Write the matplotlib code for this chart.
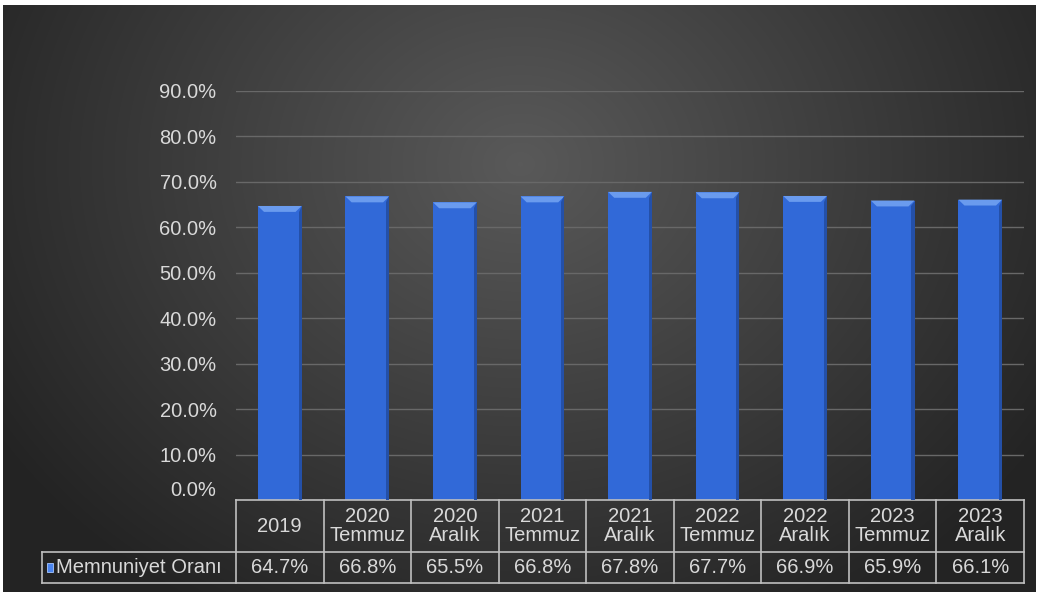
import numpy as np
import matplotlib
matplotlib.use('Agg')
import matplotlib.pyplot as plt
from matplotlib.patches import Polygon, Rectangle
import matplotlib.transforms as mtransforms

plt.rcParams['font.family'] = ['Liberation Sans', 'DejaVu Sans']

categories = ['2019', '2020\nTemmuz', '2020\nAralık', '2021\nTemmuz', '2021\nAralık',
              '2022\nTemmuz', '2022\nAralık', '2023\nTemmuz', '2023\nAralık']
values = [64.7, 66.8, 65.5, 66.8, 67.8, 67.7, 66.9, 65.9, 66.1]
series_name = 'Memnuniyet Oranı'
yticks = [0, 10, 20, 30, 40, 50, 60, 70, 80, 90]

W, H = 1039, 592
fig = plt.figure(figsize=(W / 100, H / 100), dpi=100)
fig.patch.set_facecolor('white')

# radial dark-grey backdrop
bg = fig.add_axes([3 / W, 0, (W - 6) / W, (H - 5) / H])
bg.set_axis_off()
yy, xx = np.mgrid[0:H, 0:W]
r = np.sqrt(((xx - 520) / 620) ** 2 + ((yy - 160) / 520) ** 2)
shade = np.clip(0.35 - 0.21 * r, 0.14, 0.35)
bg.imshow(np.dstack([shade] * 3), aspect='auto', extent=[0, 1, 0, 1])

txt = '#d9d9d9'
fs = 14.5
x0, x1 = 236, 1024
y0, ytop = 500, 91
ax = fig.add_axes([x0 / W, (H - y0) / H, (x1 - x0) / W, (y0 - ytop) / H])
ax.patch.set_alpha(0)
n = len(categories)
ax.set_xlim(-0.5, n - 0.5)
ax.set_ylim(0, 90)
for s in ax.spines.values():
    s.set_visible(False)
ax.set_yticks(yticks)
ax.set_yticklabels([f'{v:.1f}%' for v in yticks], color=txt, fontsize=fs)
ax.tick_params(axis='y', length=0, pad=14)
ax.set_xticks([])
# lift the zero label clear of the table
zero_lab = ax.get_yticklabels()[0]
zero_lab.set_transform(zero_lab.get_transform() +
                       mtransforms.ScaledTranslation(0, 12 / 100, fig.dpi_scale_trans))
for v in yticks[1:]:
    ax.axhline(v, color='#686868', lw=1.0, zorder=0)

xs = np.arange(n)
bw = 0.5
ax.bar(xs, values, width=bw, color='#3169d8', edgecolor='none', zorder=2)
# bevelled top and darker right edge on each bar
dx = 0.07
dy = 1.3
ew = 0.035
for x, v in zip(xs, values):
    ax.add_patch(Polygon([(x - bw / 2, v), (x + bw / 2, v), (x + bw / 2 - dx, v - dy),
                          (x - bw / 2 + dx, v - dy)], closed=True,
                         facecolor='#6a9bee', edgecolor='none', zorder=3))
    ax.add_patch(Polygon([(x + bw / 2, v), (x + bw / 2, 0), (x + bw / 2 - ew, 0),
                          (x + bw / 2 - ew, v - dy)], closed=True,
                         facecolor='#2450a8', edgecolor='none', zorder=3))

# data table beneath the axis
tr = mtransforms.blended_transform_factory(ax.transData, ax.transAxes)
ah = y0 - ytop
r1 = -52 / ah
r2 = -83 / ah
lab_left = -0.5 - (x0 - 42) / ((x1 - x0) / n)
lc = '#bfbfbf'
kw = dict(transform=tr, clip_on=False, color=lc, lw=1.2)
ax.plot([-0.5, n - 0.5], [0, 0], **kw)
ax.plot([lab_left, n - 0.5], [r1, r1], **kw)
ax.plot([lab_left, n - 0.5], [r2, r2], **kw)
ax.plot([lab_left, lab_left], [r1, r2], **kw)
for i in range(n + 1):
    ax.plot([i - 0.5, i - 0.5], [0, r2], **kw)
for i, (c, v) in enumerate(zip(categories, values)):
    ax.text(i, r1 / 2, c, transform=tr, ha='center', va='center', color=txt,
            fontsize=fs, linespacing=1.05)
    ax.text(i, (r1 + r2) / 2, f'{v:.1f}%', transform=tr, ha='center', va='center',
            color=txt, fontsize=fs)
ax.add_patch(Rectangle((lab_left + 0.055, (r1 + r2) / 2 - 0.01), 0.075, 0.02,
                       transform=tr, clip_on=False, facecolor='#4a84ee',
                       edgecolor='#a8c8ff', lw=0.6))
ax.text(lab_left + 0.165, (r1 + r2) / 2, series_name, transform=tr, ha='left',
        va='center', color=txt, fontsize=fs)

fig.savefig('out.png', dpi=100, facecolor='white')
